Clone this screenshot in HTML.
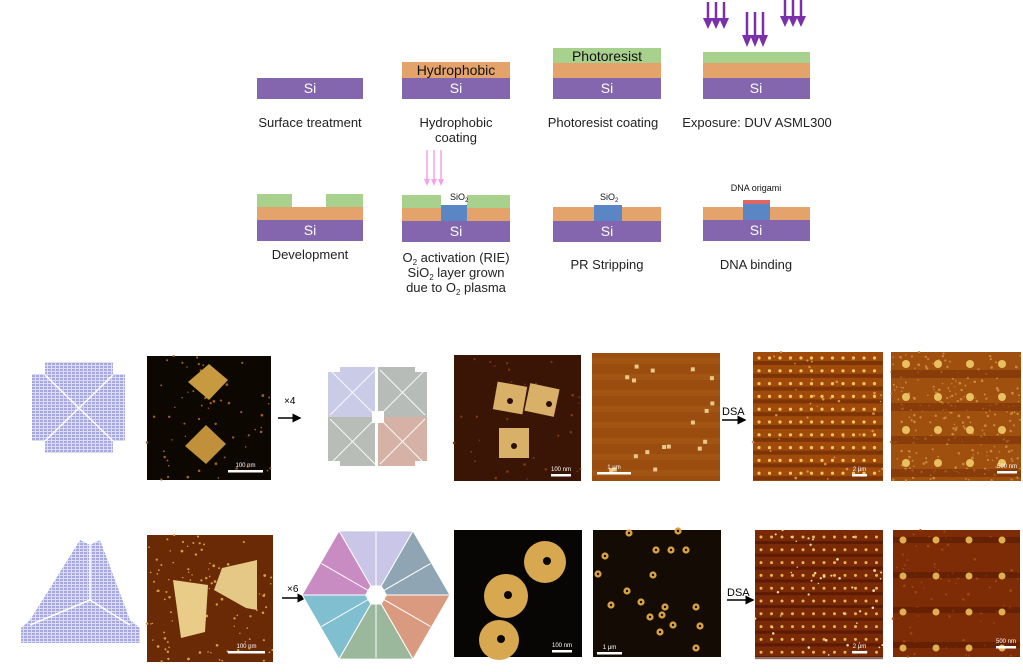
<!DOCTYPE html>
<html><head><meta charset="utf-8"><style>
html,body{margin:0;padding:0;background:#fff;width:1023px;height:672px;overflow:hidden}
svg text{font-family:"Liberation Sans",Arial,sans-serif}
</style></head><body>
<svg id="s" width="1023" height="672" viewBox="0 0 1023 672" xmlns="http://www.w3.org/2000/svg">
<defs>
<pattern id="pl" width="4" height="3" patternUnits="userSpaceOnUse"><rect width="4" height="3" fill="#dcdcf4"/><rect width="3" height="2" fill="#a8a8e0"/></pattern>
<marker id="ah" markerWidth="6" markerHeight="6" refX="5" refY="3" orient="auto"><path d="M0,0 L6,3 L0,6 z" fill="#000"/></marker>
</defs>
<g font-size="13" fill="#222">
<rect x="257" y="78" width="106" height="21" fill="#8466ae"/>
<text x="310" y="93" fill="#fff" text-anchor="middle" font-size="14">Si</text>
<rect x="402" y="78" width="108" height="21" fill="#8466ae"/>
<rect x="402" y="62" width="108" height="16" fill="#e4a36a"/>
<text x="456" y="93" fill="#fff" text-anchor="middle" font-size="14">Si</text>
<text x="456" y="75" fill="#111" text-anchor="middle" font-size="14">Hydrophobic</text>
<rect x="553" y="78" width="108" height="21" fill="#8466ae"/>
<rect x="553" y="63" width="108" height="15" fill="#e4a36a"/>
<rect x="553" y="48" width="108" height="15" fill="#a9d18e"/>
<text x="607" y="93" fill="#fff" text-anchor="middle" font-size="14">Si</text>
<text x="607" y="61" fill="#111" text-anchor="middle" font-size="14">Photoresist</text>
<rect x="703" y="78" width="107" height="21" fill="#8466ae"/>
<rect x="703" y="63" width="107" height="15" fill="#e4a36a"/>
<rect x="703" y="52" width="107" height="11" fill="#a9d18e"/>
<text x="756" y="93" fill="#fff" text-anchor="middle" font-size="14">Si</text>
<text x="310" y="127" text-anchor="middle">Surface treatment</text>
<text x="456" y="127" text-anchor="middle">Hydrophobic</text>
<text x="456" y="142" text-anchor="middle">coating</text>
<text x="603" y="127" text-anchor="middle">Photoresist coating</text>
<text x="757" y="127" text-anchor="middle">Exposure: DUV ASML300</text>
<rect x="257" y="220" width="106" height="21" fill="#8466ae"/>
<rect x="257" y="207" width="106" height="13" fill="#e4a36a"/>
<rect x="257" y="194" width="35" height="13" fill="#a9d18e"/>
<rect x="326" y="194" width="37" height="13" fill="#a9d18e"/>
<text x="310" y="235" fill="#fff" text-anchor="middle" font-size="14">Si</text>
<rect x="402" y="221" width="108" height="21" fill="#8466ae"/>
<rect x="402" y="208" width="108" height="13" fill="#e4a36a"/>
<rect x="402" y="195" width="108" height="13" fill="#a9d18e"/>
<rect x="441" y="205" width="26" height="16" fill="#5b86c5"/>
<rect x="441" y="195" width="26" height="10" fill="#fff"/>
<text x="456" y="236" fill="#fff" text-anchor="middle" font-size="14">Si</text>
<text x="450" y="200" font-size="9" fill="#111">SiO<tspan font-size="6" dy="2">2</tspan></text>
<rect x="553" y="221" width="108" height="21" fill="#8466ae"/>
<rect x="553" y="207" width="108" height="14" fill="#e4a36a"/>
<rect x="594" y="205" width="28" height="16" fill="#5b86c5"/>
<text x="607" y="236" fill="#fff" text-anchor="middle" font-size="14">Si</text>
<text x="600" y="200" font-size="9" fill="#111">SiO<tspan font-size="6" dy="2">2</tspan></text>
<rect x="703" y="220" width="107" height="21" fill="#8466ae"/>
<rect x="703" y="207" width="107" height="13" fill="#e4a36a"/>
<rect x="743" y="204" width="27" height="16" fill="#5b86c5"/>
<rect x="743" y="200" width="27" height="4" fill="#e06666"/>
<text x="756" y="235" fill="#fff" text-anchor="middle" font-size="14">Si</text>
<text x="756" y="191" text-anchor="middle" font-size="9" fill="#111">DNA origami</text>
<text x="310" y="259" text-anchor="middle">Development</text>
<text x="456" y="262" text-anchor="middle">O<tspan font-size="8" dy="3">2</tspan><tspan dy="-3"> activation (RIE)</tspan></text>
<text x="456" y="277" text-anchor="middle">SiO<tspan font-size="8" dy="3">2</tspan><tspan dy="-3"> layer grown</tspan></text>
<text x="456" y="292" text-anchor="middle">due to O<tspan font-size="8" dy="3">2</tspan><tspan dy="-3"> plasma</tspan></text>
<text x="607" y="269" text-anchor="middle">PR Stripping</text>
<text x="756" y="269" text-anchor="middle">DNA binding</text>
</g>
<g id="arrows"></g>
<text x="284" y="404" font-size="10">×4</text>
<line x1="278" y1="418" x2="300" y2="418" stroke="#000" stroke-width="1.5" marker-end="url(#ah)"/>
<text x="287" y="592" font-size="10">×6</text>
<line x1="282" y1="598" x2="305" y2="598" stroke="#000" stroke-width="1.5" marker-end="url(#ah)"/>
<text x="722" y="415" font-size="11">DSA</text>
<line x1="722" y1="420" x2="745" y2="420" stroke="#000" stroke-width="1.5" marker-end="url(#ah)"/>
<text x="727" y="596" font-size="11">DSA</text>
<line x1="727" y1="600" x2="753" y2="600" stroke="#000" stroke-width="1.5" marker-end="url(#ah)"/>
<path d="M45,362 H113 V374 H125 V441 H113 V453 H45 V441 H32 V374 H45 Z" fill="url(#pl)"/>
<g stroke="#fff" stroke-width="1.5"><line x1="45" y1="375" x2="113" y2="441"/><line x1="113" y1="375" x2="45" y2="441"/></g>
<g>
<path d="M328,372 H340 V367 H375 V417 H328 Z" fill="#cacbe6"/>
<path d="M378,367 H415 V372 H427 V417 H378 Z" fill="#b7bcb8"/>
<path d="M328,417 H375 V466 H340 V461 H328 Z" fill="#b8bdb8"/>
<path d="M378,417 H427 V461 H415 V466 H378 Z" fill="#d6b1a6"/>
<rect x="372" y="411" width="12" height="12" fill="#fff"/>
<g stroke="#fff" stroke-width="1" opacity=".9"><line x1="330" y1="370" x2="375" y2="415"/><line x1="375" y1="370" x2="330" y2="415"/><line x1="380" y1="370" x2="425" y2="415"/><line x1="425" y1="370" x2="380" y2="415"/><line x1="330" y1="419" x2="375" y2="464"/><line x1="375" y1="419" x2="330" y2="464"/><line x1="380" y1="419" x2="425" y2="464"/><line x1="425" y1="419" x2="380" y2="464"/></g>
</g>
<path d="M80,540 L90,545 L100,540 L130,620 L140,628 L140,643 L21,643 L21,628 L30,620 Z" fill="url(#pl)"/>
<g stroke="#fff" stroke-width="1.5"><line x1="90" y1="545" x2="90" y2="600"/><line x1="90" y1="600" x2="30" y2="625"/><line x1="90" y1="600" x2="130" y2="625"/></g>
<g id="oct"></g>
<g id="afm"></g>
</svg>
<script>
var s=document.getElementById('s'),NS='http://www.w3.org/2000/svg';
function el(t,a,p){var e=document.createElementNS(NS,t);for(var k in a)e.setAttribute(k,a[k]);(p||s).appendChild(e);return e;}
var ar=document.getElementById('arrows');
function parr(x,y1,y2,c,w,hw,hh){el('line',{x1:x,y1:y1,x2:x,y2:y2-hh+1,stroke:c,'stroke-width':w},ar);el('path',{d:'M'+(x-hw)+','+(y2-hh)+' L'+(x+hw)+','+(y2-hh)+' L'+x+','+y2+' Z',fill:c},ar);}
[708,716,724].forEach(function(x){parr(x,2,29,'#7b2fa8',2.5,5,11)});
[747,755,763].forEach(function(x){parr(x,12,47,'#7b2fa8',2.5,5,12)});
[785,793,801].forEach(function(x){parr(x,0,27,'#7b2fa8',2.5,5,11)});
[427,434,441].forEach(function(x){parr(x,150,186,'#f6a0ee',1.5,3,7)});
var og=document.getElementById('oct'),cx=376,cy=595,R=74;
var cols=['#c9c6e8','#8fa5b3','#d99a80','#9bb79c','#7fbfd0','#c88bc2'];
for(var i=0;i<6;i++){var a0=(-120+i*60)*Math.PI/180,a1=(-60+i*60)*Math.PI/180;
 el('path',{d:'M'+cx+','+cy+' L'+(cx+R*Math.cos(a0))+','+(cy+R*Math.sin(a0))+' L'+(cx+R*Math.cos(a1))+','+(cy+R*Math.sin(a1))+' Z',fill:cols[i],stroke:'#fff','stroke-width':1},og);
 var am=(a0+a1)/2;el('line',{x1:cx,y1:cy,x2:cx+R*0.85*Math.cos(am),y2:cy+R*0.85*Math.sin(am),stroke:'#fff','stroke-width':1},og);}
var hp='';for(var i=0;i<6;i++){var a=i*60*Math.PI/180;hp+=(i?'L':'M')+(cx+11*Math.cos(a))+','+(cy+11*Math.sin(a));}
el('path',{d:hp+'Z',fill:'#fff'},og);
var g=document.getElementById('afm');
function img(x,y,w,h,c){el('rect',{x:x,y:y,width:w,height:h,fill:c},g);}
function sb(x,y,w,t){el('rect',{x:x,y:y,width:w,height:2.5,fill:'#fff'},g);var e=el('text',{x:x+w/2,y:y-3,'font-size':6,fill:'#fff','text-anchor':'middle'},g);e.textContent=t;}
function rnd(n){var v=Math.sin(n*12.9898)*43758.5453;return v-Math.floor(v);}
function specks(x,y,w,h,n,c,seed){for(var i=0;i<n;i++)el('circle',{cx:x+rnd(seed+i)*w,cy:y+rnd(seed+i+500)*h,r:0.6+rnd(seed+i+900)*0.8,fill:c},g);}
img(147,356,124,124,'#0d0702');specks(147,356,124,124,60,'#a0601a',1);
el('path',{d:'M209,364 L228,380 L209,400 L188,382 Z',fill:'#c89a40'},g);
el('path',{d:'M206,425 L226,444 L206,464 L185,446 Z',fill:'#c0903a'},g);
sb(228,470,35,'100 nm');
img(454,355,127,126,'#3a1404');specks(454,355,127,126,40,'#7a3a10',2);
el('rect',{x:495,y:384,width:30,height:28,fill:'#d8b068',transform:'rotate(10 510 398)'},g);
el('rect',{x:527,y:386,width:30,height:28,fill:'#d8b068',transform:'rotate(12 542 400)'},g);
el('rect',{x:499,y:428,width:30,height:30,fill:'#d8b068'},g);
[[510,401],[549,404],[514,446]].forEach(function(p){el('circle',{cx:p[0],cy:p[1],r:3,fill:'#2a0e02'},g)});
sb(551,474,20,'100 nm');
img(592,353,128,128,'#9a4d0e');
for(var i=0;i<8;i++)el('rect',{x:592,y:358+i*16,width:128,height:6,fill:'#a85a16',opacity:.6},g);
for(var i=0;i<34;i++){var px=600+rnd(i+30)*112,py=358+rnd(i+70)*118;if(px<690&&py<430&&rnd(i)>.3)continue;el('rect',{x:px,y:py,width:4,height:4,fill:'#e8c888'},g);}
sb(597,472,34,'1 μm');
img(753,352,130,129,'#a04a0c');
for(var r=0;r<10;r++){el('rect',{x:753,y:361+r*12.8,width:130,height:4,fill:'#5a1e02',opacity:.5},g);for(var c=0;c<12;c++)el('circle',{cx:759+c*10.5,cy:358+r*12.8,r:1.6,fill:'#f0c860'},g);}
specks(753,352,130,129,40,'#d89040',5);
sb(852,474,15,'2 μm');
img(891,352,130,129,'#a0500e');specks(891,352,130,129,250,'#c88a3a',6);
for(var r=0;r<4;r++){el('rect',{x:891,y:370+r*33,width:130,height:8,fill:'#6a2404',opacity:.45},g);for(var c=0;c<4;c++)el('circle',{cx:906+c*32,cy:364+r*33,r:4,fill:'#e8c060'},g);}
sb(997,471,20,'500 nm');
img(147,535,126,127,'#6a2a06');specks(147,535,126,127,110,'#d8a040',7);
el('path',{d:'M173,580 L208,585 L205,632 L181,638 Z',fill:'#e8cc88'},g);
el('path',{d:'M222,568 L257,560 L257,610 L246,608 L214,590 Z',fill:'#e6c886'},g);
sb(228,651,37,'100 nm');
img(454,530,128,127,'#080604');
[[545,562,21],[506,596,22],[499,640,20]].forEach(function(p){el('circle',{cx:p[0],cy:p[1],r:p[2],fill:'#d8a850'},g);el('circle',{cx:p[0]+2,cy:p[1]-1,r:4,fill:'#080604'},g);});
sb(552,650,20,'100 nm');
img(593,530,128,127,'#140c04');
[[629,543],[678,541],[656,560],[671,560],[686,560],[605,566],[598,584],[653,585],[627,601],[641,612],[611,615],[665,617],[662,625],[673,635],[650,627],[660,642],[696,617],[700,636],[696,658]].forEach(function(p){el('circle',{cx:p[0],cy:p[1]-10,r:3.6,fill:'#d8a040'},g);el('circle',{cx:p[0],cy:p[1]-10,r:1.2,fill:'#140c04'},g);});
sb(597,652,25,'1 μm');
img(755,530,128,127,'#7a2a06');
for(var r=0;r<10;r++){el('rect',{x:755,y:541+r*12.8,width:128,height:3,fill:'#4a1202',opacity:.6},g);for(var c=0;c<12;c++)el('circle',{cx:761+c*10.5,cy:537+r*12.8,r:1.5,fill:'#e8b850'},g);}
specks(755,530,128,127,40,'#f0e0b0',9);
sb(852,651,15,'2 μm');
img(893,530,127,127,'#7e2c06');specks(893,530,127,127,80,'#a04a10',10);
for(var r=0;r<4;r++){el('rect',{x:893,y:537+r*35,width:127,height:6,fill:'#4e1402',opacity:.5},g);for(var c=0;c<4;c++)el('circle',{cx:903+c*33,cy:540+r*36,r:3.5,fill:'#e0b050'},g);}
sb(996,646,20,'500 nm');
</script>
</body></html>
